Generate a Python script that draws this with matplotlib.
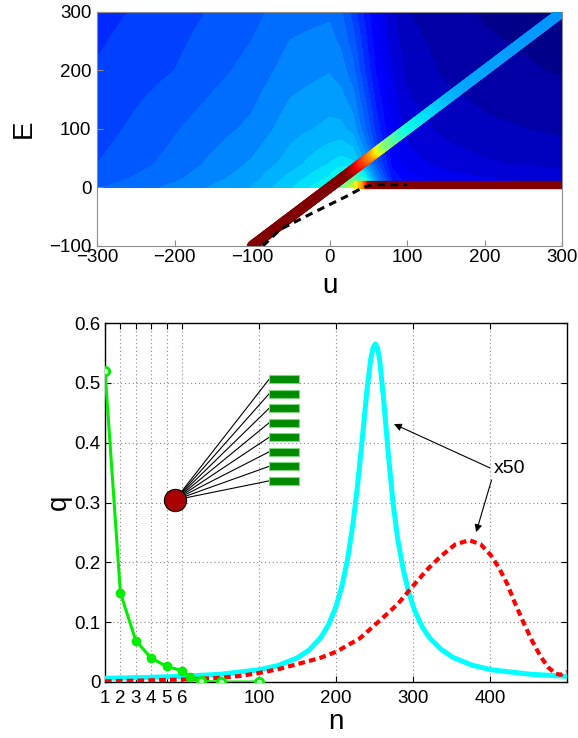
import numpy as np
import matplotlib.pyplot as plt
from matplotlib.collections import LineCollection
from matplotlib.patches import Rectangle

plt.rcParams['font.family'] = ['Liberation Sans', 'DejaVu Sans']

#%% top panel data: background field (jet scale 0..1) read on a coarse grid
grid_u = [-300, -200, -100, -50, 0, 15, 30, 45, 60, 80, 100, 150, 200, 300]
grid_E = [0, 15, 40, 100, 200, 300]
field = [
    [0.22, 0.25, 0.29, 0.33, 0.38, 0.45, 0.62, 0.52, 0.32, 0.17, 0.13, 0.11, 0.10, 0.09],
    [0.21, 0.24, 0.28, 0.32, 0.36, 0.40, 0.45, 0.38, 0.26, 0.15, 0.12, 0.10, 0.09, 0.08],
    [0.20, 0.23, 0.27, 0.30, 0.335, 0.345, 0.34, 0.29, 0.21, 0.13, 0.10, 0.08, 0.07, 0.06],
    [0.19, 0.22, 0.25, 0.28, 0.295, 0.295, 0.28, 0.23, 0.17, 0.11, 0.08, 0.06, 0.05, 0.04],
    [0.18, 0.20, 0.23, 0.255, 0.265, 0.255, 0.23, 0.18, 0.13, 0.09, 0.06, 0.04, 0.03, 0.02],
    [0.17, 0.19, 0.215, 0.235, 0.24, 0.225, 0.19, 0.15, 0.11, 0.07, 0.045, 0.03, 0.02, 0.01],
]

# thick diagonal E = u, coloured by value
diag_u = [-100, 25, 44, 57, 65, 74, 100, 130, 173, 300]
diag_val = [1.0, 1.0, 0.87, 0.75, 0.64, 0.52, 0.38, 0.34, 0.29, 0.27]

# thick flat band just above E = 0
flat_u = [32, 42, 50, 60, 300]
flat_val = [0.62, 0.75, 0.95, 1.0, 1.0]
flat_E = 4

# dashed black curve
dash_u = [-86, -64, -21, 22, 39, 50, 65, 100]
dash_E = [-100, -72, -43, -15, -3, 3, 5, 5]

#%% bottom panel data
tick_pos = [-100, -80, -60, -40, -20, 0, 100, 200, 300, 400]
tick_lab = ['1', '2', '3', '4', '5', '6', '100', '200', '300', '400']

green_x = [-100, -80, -60, -40, -20, 0, 10, 25, 50, 100]
green_q = [0.52, 0.149, 0.069, 0.040, 0.026, 0.019, 0.008, 0.001, 0.0, 0.0]

cyan_x = [-100, -50, 0, 50, 100, 125, 150, 165, 180, 190, 200, 208, 215, 222, 228, 234,
          240, 245, 248, 251, 254, 257, 262, 268, 274, 280, 287, 294, 302, 312, 322,
          337, 352, 377, 402, 452, 500]
cyan_q = [0.0063, 0.0075, 0.0094, 0.013, 0.0204, 0.0276, 0.0405, 0.0534, 0.074, 0.095,
          0.126, 0.162, 0.205, 0.264, 0.329, 0.405, 0.485, 0.539, 0.558, 0.565, 0.558,
          0.535, 0.47, 0.38, 0.30, 0.24, 0.19, 0.152, 0.120, 0.092, 0.073, 0.054, 0.041,
          0.028, 0.0204, 0.013, 0.0095]

red_x = [-100, 0, 50, 75, 100, 127, 150, 179, 201, 231, 258, 280, 301, 320, 336, 355, 373,
         388, 401, 412, 422, 433, 444, 455, 466, 476, 485, 492, 500]
red_q = [0.001, 0.004, 0.007, 0.010, 0.015, 0.022, 0.030, 0.040, 0.051, 0.073, 0.104, 0.13,
         0.162, 0.19, 0.21, 0.23, 0.237, 0.23, 0.212, 0.19, 0.165, 0.13, 0.098, 0.068,
         0.042, 0.024, 0.014, 0.012, 0.017]


def colored_line(ax, xs, ys, vals, lw, cap):
    pts = np.column_stack([xs, ys])
    segs = np.stack([pts[:-1], pts[1:]], axis=1)
    lc = LineCollection(segs, cmap='jet', norm=plt.Normalize(0, 1), linewidths=lw,
                        capstyle=cap, zorder=3)
    lc.set_array(0.5 * (vals[:-1] + vals[1:]))
    ax.add_collection(lc)


fig = plt.figure(figsize=(5.78, 7.38), dpi=100)

#%% top panel
ax1 = fig.add_axes([97/578, 1-246/738, 465/578, 234/738])
# bilinear resampling of the read grid so the contour bands come out smooth
fu = np.linspace(-300, 300, 301)
fE = np.linspace(0, 300, 151)
tmp = np.array([np.interp(fu, grid_u, row) for row in field])
fine = np.array([np.interp(fE, grid_E, tmp[:, j]) for j in range(len(fu))]).T
ax1.contourf(fu, fE, fine, levels=np.linspace(0, 1, 46), cmap='jet',
             vmin=0, vmax=1, zorder=1)

s = np.linspace(diag_u[0], diag_u[-1], 400)
colored_line(ax1, s, s, np.interp(s, diag_u, diag_val), 7.5, 'round')
s2 = np.linspace(flat_u[0], flat_u[-1], 300)
colored_line(ax1, s2, np.full_like(s2, flat_E), np.interp(s2, flat_u, flat_val), 6, 'butt')
ax1.plot(dash_u, dash_E, color='k', lw=2.2, dashes=(2.5, 1.8), zorder=4)

ax1.set_xlim(-300, 300)
ax1.set_ylim(-100, 300)
ax1.set_xticks(range(-300, 301, 100))
ax1.set_yticks(range(-100, 301, 100))
for sp in ax1.spines.values():
    sp.set_color('#8c8c8c')
ax1.tick_params(direction='in', length=4, color='#8c8c8c', labelsize=13.5, pad=2)
ax1.tick_params(axis='y', pad=4)
ax1.set_xlabel('u', fontsize=20, labelpad=5)
ax1.set_ylabel('E', fontsize=20, labelpad=9)

#%% bottom panel
ax2 = fig.add_axes([105/578, 1-682/738, 462/578, 359/738])
ax2.plot(cyan_x, cyan_q, color='#00ffff', lw=3.6, zorder=3, solid_joinstyle='round')
ax2.plot(red_x, red_q, color='#ff0000', lw=3.0, dashes=(1.6, 1.0), zorder=4)
ax2.plot(green_x, green_q, color='#00ee00', lw=2.2, marker='o', ms=6, mfc='#00ee00',
         mec='#00ee00', zorder=5)
ax2.plot(green_x[:1] + green_x[-3:], green_q[:1] + green_q[-3:], ls='none', marker='o',
         ms=6, mfc='#b8ffb8', mec='#00ee00', mew=2, zorder=6)

ax2.set_xlim(-100, 500)
ax2.set_ylim(0, 0.6)
ax2.set_xticks(tick_pos)
ax2.set_xticklabels(tick_lab)
ax2.set_yticks(np.arange(0, 0.61, 0.1))
ax2.set_yticklabels(['0', '0.1', '0.2', '0.3', '0.4', '0.5', '0.6'])
ax2.grid(True, ls=(0, (1, 2.5)), color='#888888', lw=0.8)
ax2.tick_params(direction='in', length=4, top=True, right=True, labelsize=13.5)
ax2.tick_params(axis='x', pad=6)
ax2.tick_params(axis='y', pad=3)
for sp in ax2.spines.values():
    sp.set_linewidth(1.0)
ax2.set_xlabel('n', fontsize=20, labelpad=1)
ax2.set_ylabel('q', fontsize=20, labelpad=2)

# x50 annotation
ax2.text(405, 0.356, 'x50', fontsize=14, va='center', ha='left')
ax2.annotate('', xy=(272, 0.433), xytext=(403, 0.356),
             arrowprops=dict(arrowstyle='-|>', color='k', lw=0.8, mutation_scale=11))
ax2.annotate('', xy=(381, 0.246), xytext=(403, 0.342),
             arrowprops=dict(arrowstyle='-|>', color='k', lw=0.8, mutation_scale=11))

# inset sketch: one node linked to eight bars
cx, cy = 0.1515, 0.507
bar_y = 0.843 - 0.0404 * np.arange(8)
for by in bar_y:
    ax2.plot([cx, 0.355], [cy, by], color='k', lw=0.8, transform=ax2.transAxes, zorder=6)
    ax2.add_patch(Rectangle((0.355, by - 0.0112), 0.065, 0.0224, transform=ax2.transAxes,
                            facecolor='#008a00', edgecolor='#7fd67f', lw=0.8, zorder=7))
ax2.plot(cx, cy, 'o', ms=16, mfc='#a80000', mec='k', mew=0.8, transform=ax2.transAxes,
         zorder=8)

fig.savefig('out.png', dpi=100)
